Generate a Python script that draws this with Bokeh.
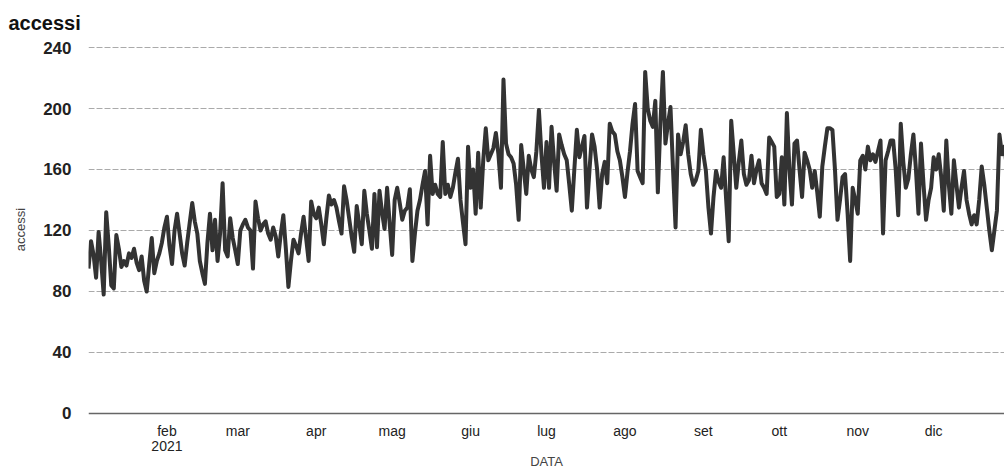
import pandas as pd
from bokeh.plotting import figure
from bokeh.models import FixedTicker, Range1d, Span, ColumnDataSource
from bokeh.embed import file_html
from bokeh.resources import INLINE

# daily accesses, 2021
gen = [95,113,104,89,119,100,78,132,110,84,82,117,108,96,100,97,105,102,108,99,94,103,87,80,98,115,92,100,105,112,122]
feb = [129,110,98,120,131,118,105,97,112,125,138,126,118,100,92,85,112,131,107,127,100,118,151,107,103,128,115,107]
mar = [98,120,124,127,122,120,95,139,128,120,124,126,118,114,122,116,103,118,130,108,83,100,114,110,105,118,129,115,100,139,131]
apr = [128,135,124,111,128,143,137,140,135,126,118,149,140,128,116,106,136,124,111,146,131,120,108,144,109,146,132,121,148,125]
mag = [104,140,148,138,127,133,135,147,100,118,133,140,150,159,124,169,144,150,144,142,178,144,150,142,148,158,167,140,125,111,175]
giu = [148,160,131,171,135,166,187,166,170,174,184,170,148,219,177,170,168,164,150,127,176,160,144,169,160,155,172,199,170,148]
lug = [178,148,188,165,146,183,176,170,166,150,133,160,186,168,175,182,135,160,183,175,160,135,157,165,151,190,185,183,172,166,155]
ago = [142,158,172,190,203,159,155,151,224,200,192,188,205,145,190,224,177,190,201,160,122,183,170,178,189,170,157,150,153,159,186]
set_ = [170,159,135,118,142,159,152,148,168,140,113,192,170,148,165,179,157,150,153,169,151,160,166,151,148,144,181,178,175,142]
ott = [144,168,137,197,160,137,177,179,160,142,171,166,160,148,159,145,129,162,175,187,187,186,160,127,140,155,157,131,100,148,140]
nov = [131,166,169,160,175,166,170,165,172,179,118,166,172,179,179,160,130,190,165,148,154,170,183,160,131,177,150,127,140,148]
dic = [168,160,170,155,133,179,150,131,166,150,135,148,159,140,131,124,130,124,140,162,150,135,120,107,120,133,183,170,175,160,150]

month_labels = ["feb\n2021", "mar", "apr", "mag", "giu", "lug", "ago", "set", "ott", "nov", "dic"]
month_starts = ["2021-02-01", "2021-03-01", "2021-04-01", "2021-05-01", "2021-06-01", "2021-07-01",
                "2021-08-01", "2021-09-01", "2021-10-01", "2021-11-01", "2021-12-01"]
y_ticks = [0, 40, 80, 120, 160, 200, 240]

values = gen + feb + mar + apr + mag + giu + lug + ago + set_ + ott + nov + dic
start = pd.Timestamp("2021-01-01")
day = list(range(len(values)))
tick_days = [(pd.Timestamp(d) - start).days for d in month_starts]

src = ColumnDataSource(dict(x=day, y=values))

p = figure(width=1004, height=473, output_backend="svg", toolbar_location=None,
           x_range=Range1d(0, 362), y_range=Range1d(-3.3, 244.6),
           min_border_left=88, min_border_right=0, min_border_top=40, min_border_bottom=55,
           title="accessi")
p.title.text_font = "Liberation Sans"
p.title.text_font_style = "bold"
p.title.text_font_size = "20px"
p.title.text_color = "#111111"
p.title.offset = -80
p.title.vertical_align = "top"
p.outline_line_color = None

p.line("x", "y", source=src, line_color="#333333", line_width=4, line_join="round")

p.add_layout(Span(location=0, dimension="width", line_color="#666666", line_width=1.5))

p.xgrid.visible = False
p.ygrid.ticker = FixedTicker(ticks=y_ticks[1:])
p.ygrid.grid_line_color = "#aaaaaa"
p.ygrid.grid_line_dash = "6 2"
p.ygrid.grid_line_width = 1

p.yaxis.ticker = FixedTicker(ticks=y_ticks)
p.yaxis.axis_label = "accessi"
p.yaxis.axis_label_text_font = "Liberation Sans"
p.yaxis.axis_label_text_font_style = "normal"
p.yaxis.axis_label_text_font_size = "13px"
p.yaxis.axis_label_standoff = 12
p.yaxis.major_label_text_font = "Liberation Sans"
p.yaxis.major_label_text_font_style = "bold"
p.yaxis.major_label_text_font_size = "17px"
p.yaxis.major_label_text_color = "#222222"
p.yaxis.major_label_standoff = 11

p.xaxis.ticker = FixedTicker(ticks=tick_days)
p.xaxis.major_label_overrides = {d: lab for d, lab in zip(tick_days, month_labels)}
p.xaxis.axis_label = "DATA"
p.xaxis.axis_label_text_font = "Liberation Sans"
p.xaxis.axis_label_text_font_style = "normal"
p.xaxis.axis_label_text_font_size = "13px"
p.xaxis.axis_label_standoff = -3
p.xaxis.major_label_text_font = "Liberation Sans"
p.xaxis.major_label_text_font_size = "14px"
p.xaxis.major_label_text_line_height = 0.95
p.xaxis.major_label_text_color = "#222222"
p.xaxis.major_label_standoff = -2

for ax in (p.xaxis, p.yaxis):
    ax.axis_line_color = None
    ax.major_tick_line_color = None
    ax.minor_tick_line_color = None

open("out.html", "w").write(file_html(p, INLINE))
